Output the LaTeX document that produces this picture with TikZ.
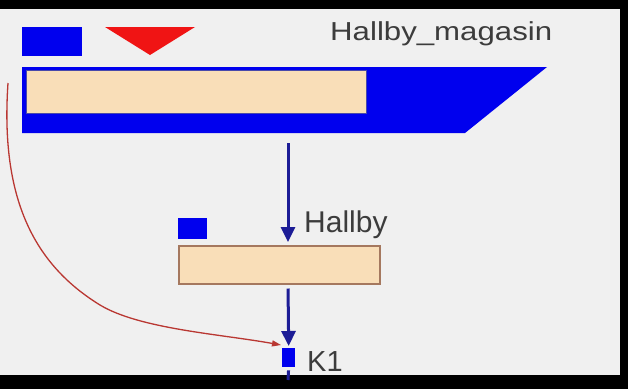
\documentclass[tikz,border=0pt]{standalone}
\usepackage{fontspec}
\setmainfont{Liberation Sans}
\usetikzlibrary{arrows.meta,calc}
\definecolor{bgray}{RGB}{240,240,240}
\definecolor{pblue}{RGB}{0,0,238}
\definecolor{navy}{RGB}{28,28,150}
\definecolor{beige}{RGB}{249,222,184}
\definecolor{brownb}{RGB}{165,120,95}
\definecolor{rline}{RGB}{185,55,50}
\definecolor{redtri}{RGB}{240,20,20}
\definecolor{tgray}{RGB}{60,60,60}
\tikzset{
  bluebox/.style={fill=pblue,draw=none,inner sep=0,anchor=north west},
  beigebox/.style={fill=beige,inner sep=0,anchor=north west},
  flowarrow/.style={draw=navy,line width=3pt,-{Triangle[length=15pt,width=14pt]}},
  linkarrow/.style={draw=rline,line width=1.3pt,-{Triangle[length=9pt,width=6pt]}},
  lbl/.style={text=tgray,inner sep=0,anchor=base west}
}
\begin{document}
\begin{tikzpicture}[x=1pt,y=-1pt]
\useasboundingbox (0,0) rectangle (628,389);
\fill[black] (0,0) rectangle (628,389);
\fill[bgray] (0,9) rectangle (620,375);
% top element
\node[bluebox,minimum width=60pt,minimum height=29pt] (mtag) at (22,27) {};
\fill[redtri] (105,27) -- (195,27) -- (150,55) -- cycle;
\node[lbl] (mlabel) at (330,40) {\scalebox{1.2}[1]{\fontsize{26}{30}\selectfont Hallby\_magasin}};
\fill[pblue] (22,67) -- (547,67) -- (465,133) -- (22,133) -- cycle;
\node[beigebox,draw=navy!80,line width=1pt,minimum width=340pt,minimum height=43pt] (mbar) at (26,70) {};
\coordinate (mout) at (288,143);
% middle element
\node[bluebox,minimum width=29pt,minimum height=21pt] (htag) at (178,218) {};
\node[beigebox,draw=brownb,line width=1.5pt,minimum width=201pt,minimum height=38pt] (hbox) at (178,245) {};
\node[lbl] (hlabel) at (304,232) {\fontsize{30}{34}\selectfont Hallby};
% bottom element
\node[bluebox,minimum width=13pt,minimum height=19pt] (k1) at (282,348) {};
\node[lbl] (klabel) at (307,371) {\fontsize{29}{33}\selectfont K1};
\coordinate (kout) at (288,380);
% connectors
\draw[flowarrow,shorten >=3pt] (mout) -- (hbox.north -| mout);
\draw[flowarrow,shorten <=4pt,shorten >=2pt] (hbox.south -| mout) -- (k1.north);
\draw[navy,line width=3pt,shorten <=3pt] (k1.south) -- (kout);
\coordinate (rstart) at (8,83);
\coordinate (rmid) at (100,305);
\draw[linkarrow] (rstart) .. controls (0,200) and (35,265) .. (rmid)
  .. controls (140,329) and (220,334) .. ($(k1.north west)+(-1,-3)$);
\end{tikzpicture}
\end{document}
